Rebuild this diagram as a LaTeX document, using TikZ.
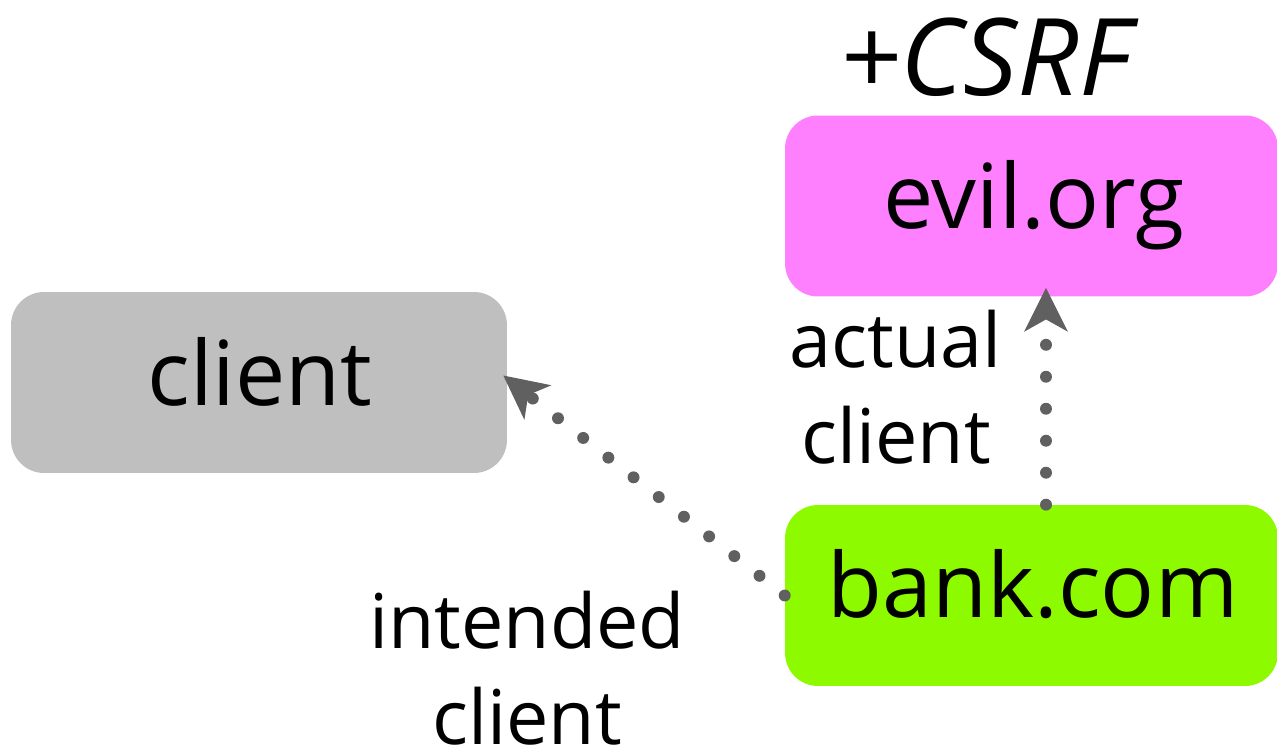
\documentclass[tikz,border=0pt]{standalone}
\usepackage{fontspec}
\setmainfont{Open Sans}
\usetikzlibrary{arrows.meta}
\definecolor{boxgray}{RGB}{191,191,191}
\definecolor{evilpink}{RGB}{255,128,255}
\definecolor{bankgreen}{RGB}{142,250,0}
\definecolor{arrowgray}{RGB}{96,96,96}
\tikzset{
  box/.style={rounded corners=0.66cm, inner sep=0pt, minimum height=3.62cm},
  boxtext/.style={anchor=base, inner sep=0pt, font=\fontsize{51}{60}\selectfont},
  labeltext/.style={anchor=base, inner sep=0pt, align=center, font=\fontsize{43}{54.5}\selectfont},
  dotarrow/.style={draw=arrowgray, line width=6.8pt, line cap=round,
    dash pattern=on 0pt off 18.2pt,
    -{Stealth[length=25pt, width=25pt, inset=7pt, fill=arrowgray, line width=0pt]}},
}
\begin{document}
\begin{tikzpicture}[x=0.02cm, y=-0.02cm]
\useasboundingbox (0,0) rectangle (1277,750);
% boxes
\node[box, fill=boxgray, minimum width=9.92cm] (client) at (259,382.5) {};
\node[box, fill=evilpink, minimum width=9.86cm] (evil) at (1031.5,206) {};
\node[box, fill=bankgreen, minimum width=9.86cm] (bank) at (1031.5,595.5) {};
% texts
\node[boxtext] (clienttext) at (260,405) {client};
\node[boxtext] (eviltext) at (1034,228) {evil.org};
\node[boxtext] (banktext) at (1033,617) {bank.com};
\node[anchor=base, inner sep=0pt, font=\fontsize{61}{70}\selectfont\itshape] (csrf) at (985,95) {+CSRF};
\node[labeltext] (actual) at (896,463) {actual\\client};
\node[labeltext] (intended) at (527,744) {intended\\client};
% connectors
\draw[dotarrow] ([xshift=0.29cm]bank.north) -- ([xshift=0.29cm, yshift=0.18cm]evil.south);
\draw[dotarrow] (bank.west) -- ([yshift=0.14cm, xshift=-0.08cm]client.east);
\end{tikzpicture}
\end{document}
